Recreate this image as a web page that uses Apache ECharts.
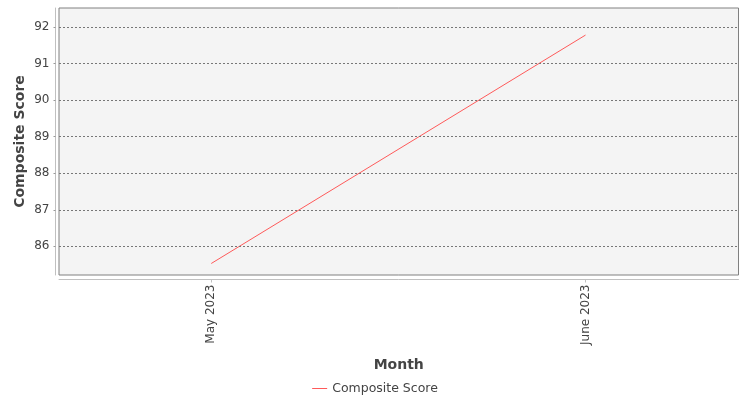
<!DOCTYPE html>
<html>
<head>
<meta charset="utf-8">
<script src="https://cdn.jsdelivr.net/npm/echarts@6/dist/echarts.min.js"></script>
<style>html,body{margin:0;padding:0;background:#fff}#c{width:750px;height:400px}</style>
</head>
<body>
<div id="c"></div>
<script>
const categories = ['May 2023', 'June 2023'];
const seriesName = 'Composite Score';
const scores = [85.53, 91.78];
const yTicks = [86, 87, 88, 89, 90, 91, 92];

const chart = echarts.init(document.getElementById('c'), null, {renderer: 'canvas'});
const font = 'DejaVu Sans';
chart.setOption({
  animation: false,
  backgroundColor: '#ffffff',
  textStyle: {fontFamily: font},
  grid: {left: 59, right: 11.5, top: 8, bottom: 125, show: true, containLabel: false,
         outerBoundsMode: 'none',
         backgroundColor: '#f4f4f4', borderColor: '#808080', borderWidth: 1},
  legend: {
    bottom: 0, left: 'center', icon: 'rect', itemWidth: 15, itemHeight: 1,
    itemGap: 4,
    textStyle: {fontFamily: font, fontSize: 12.5, color: '#444'},
    data: [seriesName]
  },
  xAxis: {
    type: 'value', min: -0.4068, max: 1.4087, offset: 4.5,
    name: 'Month', nameLocation: 'middle', nameGap: 79,
    nameTextStyle: {fontFamily: font, fontSize: 14, fontWeight: 'bold', color: '#444'},
    axisLine: {show: true, onZero: false, lineStyle: {color: '#c0c0c0', width: 1}},
    axisTick: {show: true, customValues: [0, 1], length: 3, lineStyle: {color: '#c0c0c0'}},
    axisLabel: {customValues: [0, 1], rotate: 90, fontSize: 12, color: '#444', margin: 5,
                formatter: v => categories[Math.round(v)]},
    splitLine: {show: false}
  },
  yAxis: {
    type: 'value', min: 85.215, max: 92.52, offset: 3.5,
    name: seriesName, nameLocation: 'middle', nameGap: 28, nameMoveOverlap: false,
    nameTextStyle: {fontFamily: font, fontSize: 14, fontWeight: 'bold', color: '#444'},
    axisLine: {show: true, onZero: false, lineStyle: {color: '#c0c0c0', width: 1}},
    axisTick: {show: true, customValues: yTicks, length: 2, lineStyle: {color: '#999'}},
    axisLabel: {customValues: yTicks, fontSize: 12, color: '#444', margin: 6},
    splitLine: {show: false}
  },
  series: [
    {
      name: seriesName, type: 'line', showSymbol: false, symbol: 'none',
      color: '#ff5a5a', lineStyle: {width: 1, color: '#ff5a5a'},
      data: scores.map((v, i) => [i, v]),
      markLine: {
        silent: true, symbol: 'none', label: {show: false},
        lineStyle: {type: [2, 2], color: '#777', width: 1},
        data: yTicks.map(t => ({yAxis: t}))
      }
    }
  ]
});
</script>
</body>
</html>
